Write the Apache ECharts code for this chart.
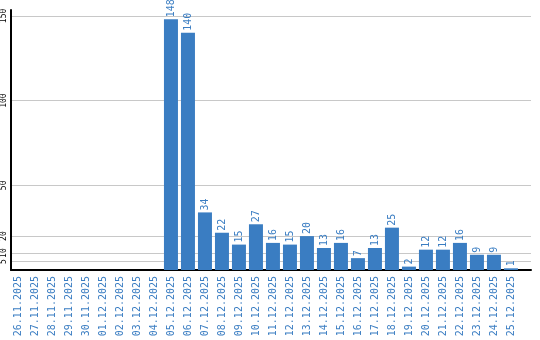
<!DOCTYPE html>
<html><head><meta charset="utf-8">
<script src="https://cdn.jsdelivr.net/npm/echarts@6/dist/echarts.min.js"></script>
<style>html,body{margin:0;padding:0;background:#fff}#c{width:540px;height:340px}</style>
</head><body><div id="c"></div>
<script>
var categories = ['26.11.2025','27.11.2025','28.11.2025','29.11.2025','30.11.2025','01.12.2025','02.12.2025','03.12.2025','04.12.2025','05.12.2025','06.12.2025','07.12.2025','08.12.2025','09.12.2025','10.12.2025','11.12.2025','12.12.2025','13.12.2025','14.12.2025','15.12.2025','16.12.2025','17.12.2025','18.12.2025','19.12.2025','20.12.2025','21.12.2025','22.12.2025','23.12.2025','24.12.2025','25.12.2025'];
var values = [0,0,0,0,0,0,0,0,0,148,140,34,22,15,27,16,15,20,13,16,7,13,25,2,12,12,16,9,9,1];
var yTicks = [5,10,20,50,100,150];

var blue = '#3a7dc2';
var mono = '"DejaVu Sans Mono", monospace';
var idx = categories.map(function(_, i){ return i; });
var chart = echarts.init(document.getElementById('c'));
chart.setOption({
  animation: false,
  grid: {left: 11, right: 9, top: 10, bottom: 70, containLabel: false, outerBoundsMode: 'none'},
  xAxis: {
    type: 'value', min: -0.41, max: 30.18,
    axisLine: {show: true, onZero: false, lineStyle: {color: '#000', width: 2}},
    axisTick: {show: false},
    splitLine: {show: false},
    axisLabel: {
      customValues: idx, rotate: 90, color: blue, fontFamily: mono, fontSize: 10, margin: 6,
      formatter: function(v){ return categories[Math.round(v)] || ''; }
    }
  },
  yAxis: {
    type: 'value', min: 0, max: 153.5,
    axisLine: {show: true, onZero: false, lineStyle: {color: '#000', width: 2}},
    axisTick: {show: false, customValues: yTicks},
    splitLine: {show: true, lineStyle: {color: '#c8c8c8', width: 1}},
    axisLabel: {customValues: yTicks, rotate: 90, color: '#000', fontFamily: mono, fontSize: 8, margin: 3}
  },
  series: [{
    type: 'bar', barWidth: 14,
    itemStyle: {color: blue},
    data: idx.map(function(i){ return [i, values[i]]; }),
    label: {
      show: true, position: 'top', rotate: 90, align: 'left', verticalAlign: 'middle', distance: 2,
      color: blue, fontFamily: mono, fontSize: 10,
      formatter: function(p){ return p.value[1] ? String(p.value[1]) : ''; }
    }
  }]
});
</script></body></html>
